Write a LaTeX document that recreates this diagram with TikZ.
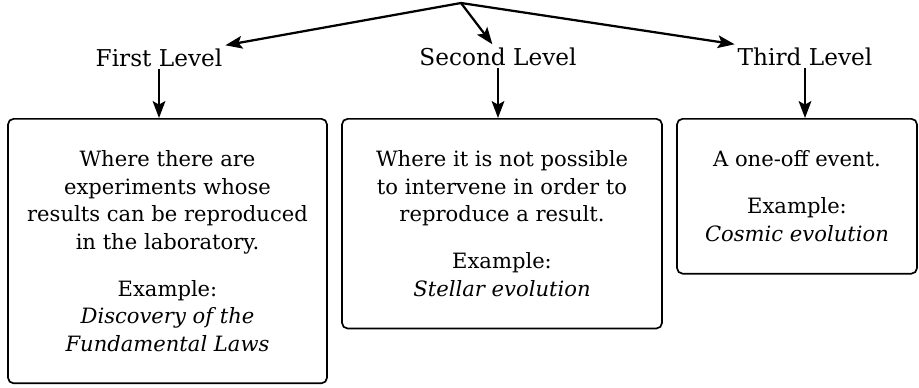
\documentclass[tikz,border=0pt]{standalone}
\usepackage{fontspec}
\setmainfont{DejaVu Serif}
\usetikzlibrary{arrows.meta}

\begin{document}
\begin{tikzpicture}[x=1cm,y=1cm,
  levelstyle/.style={font=\fontsize{16.5}{20}\selectfont,inner sep=2pt,anchor=base},
  boxstyle/.style={draw,line width=1.2pt,rounded corners=4pt,align=center,anchor=north,
    inner xsep=4pt,inner ysep=0.8cm,font=\fontsize{15}{19.5}\selectfont},
  arr/.style={line width=1.6pt,-{Stealth[length=12pt,width=9pt,inset=2.5pt]}}]
  \useasboundingbox (0,0) rectangle (22.975,-9.7);

  \coordinate (top) at (11.525,-0.075);
  \node [levelstyle] (first)  at (3.975,-1.65)  {First Level};
  \node [levelstyle] (second) at (12.45,-1.625) {Second Level};
  \node [levelstyle] (third)  at (20.125,-1.625) {Third Level};

  \node [boxstyle,minimum width=7.975cm] (box1) at (4.1875,-2.95)
    {Where there are\\ experiments whose\\ results can be reproduced\\ in the laboratory.\\[14pt]
     Example:\\ \textit{Discovery of the}\\ \textit{Fundamental Laws}};
  \node [boxstyle,minimum width=8cm] (box2) at (12.55,-2.95)
    {Where it is not possible\\ to intervene in order to\\ reproduce a result.\\[14pt]
     Example:\\ \textit{Stellar evolution}};
  \node [boxstyle,minimum width=6cm] (box3) at (19.925,-2.95)
    {A one-off event.\\[14pt] Example:\\ \textit{Cosmic evolution}};

  \draw [arr] (top) -- (first.north east);
  \draw [arr] (top) -- ([xshift=-4pt]second.north);
  \draw [arr] (top) -- (third.north west);

  \draw [arr] (first.south)  -- (first.south |- box1.north);
  \draw [arr] (second.south) -- (second.south |- box2.north);
  \draw [arr] (third.south)  -- (third.south |- box3.north);
\end{tikzpicture}
\end{document}
